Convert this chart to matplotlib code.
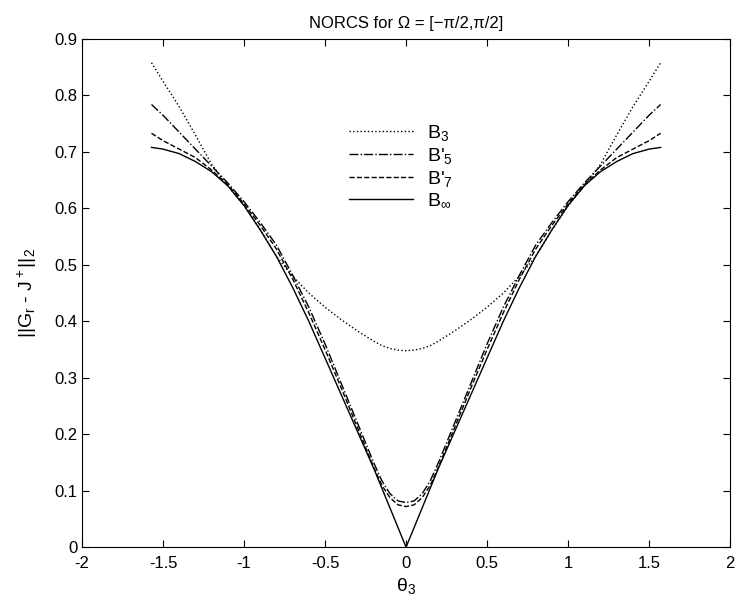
import numpy as np
import matplotlib.pyplot as plt

plt.rcParams['font.family'] = ['Liberation Sans', 'DejaVu Sans']
plt.rcParams['axes.unicode_minus'] = False
plt.rcParams['mathtext.fontset'] = 'custom'
plt.rcParams['mathtext.rm'] = 'Liberation Sans'
plt.rcParams['mathtext.it'] = 'Liberation Sans'

# theta_3 >= 0 half, curves are symmetric about 0
theta = [0.0, 0.05, 0.1, 0.15, 0.2, 0.3, 0.4, 0.5, 0.6, 0.7, 0.8, 0.9,
         1.0, 1.1, 1.2, 1.3, 1.4, 1.5, 1.571]
b3 = [0.348, 0.349, 0.352, 0.357, 0.365, 0.383, 0.403, 0.425, 0.450, 0.480,
      0.515, 0.562, 0.605, 0.640, 0.678, 0.730, 0.780, 0.825, 0.858]
b5 = [0.079, 0.082, 0.095, 0.118, 0.150, 0.220, 0.290, 0.360, 0.425, 0.482,
      0.535, 0.575, 0.612, 0.645, 0.675, 0.705, 0.735, 0.765, 0.784]
b7 = [0.072, 0.075, 0.088, 0.110, 0.142, 0.212, 0.282, 0.350, 0.415, 0.475,
      0.528, 0.570, 0.608, 0.642, 0.668, 0.690, 0.705, 0.720, 0.733]
binf = [0.0, 0.035, 0.070, 0.105, 0.140, 0.205, 0.270, 0.335, 0.400, 0.460,
        0.515, 0.562, 0.605, 0.640, 0.665, 0.683, 0.697, 0.705, 0.708]

labels = ['B$_3$', "B'$_5$", "B'$_7$", 'B$_\\infty$']
styles = [':', '-.', '--', '-']


def mirror(t, v):
    t = np.asarray(t)
    v = np.asarray(v)
    return np.concatenate([-t[:0:-1], t]), np.concatenate([v[:0:-1], v])


fig = plt.figure(figsize=(7.42, 6.0), dpi=100)
ax = fig.add_axes([0.1105, 0.088, 0.8735, 0.847])

for vals, ls, lab in zip([b3, b5, b7, binf], styles, labels):
    x, y = mirror(theta, vals)
    ax.plot(x, y, ls, color='black', lw=1.0, label=lab)

ax.set_xlim(-2, 2)
ax.set_ylim(0, 0.9)
ax.set_xticks(np.arange(-2, 2.01, 0.5))
ax.set_xticklabels(['-2', '-1.5', '-1', '-0.5', '0', '0.5', '1', '1.5', '2'])
ax.set_yticks(np.arange(0, 0.91, 0.1))
ax.set_yticklabels(['0', '0.1', '0.2', '0.3', '0.4', '0.5', '0.6', '0.7', '0.8', '0.9'])
ax.tick_params(direction='in', top=True, right=True, labelsize=12, length=5)
ax.tick_params(axis='x', pad=6)

ax.set_xlabel('θ$_3$', fontsize=14, labelpad=4)
ax.set_ylabel('||G$_r$ - J$^+$||$_2$', fontsize=14, labelpad=11)
ax.set_title('NORCS for Ω = [−π/2,π/2]', fontsize=12, pad=8)

ax.legend(frameon=False, loc='upper left', bbox_to_anchor=(0.40, 0.85),
          fontsize=14, handlelength=3.3, handletextpad=0.7, labelspacing=0.15,
          borderaxespad=0)

fig.savefig('out.png', dpi=100)
